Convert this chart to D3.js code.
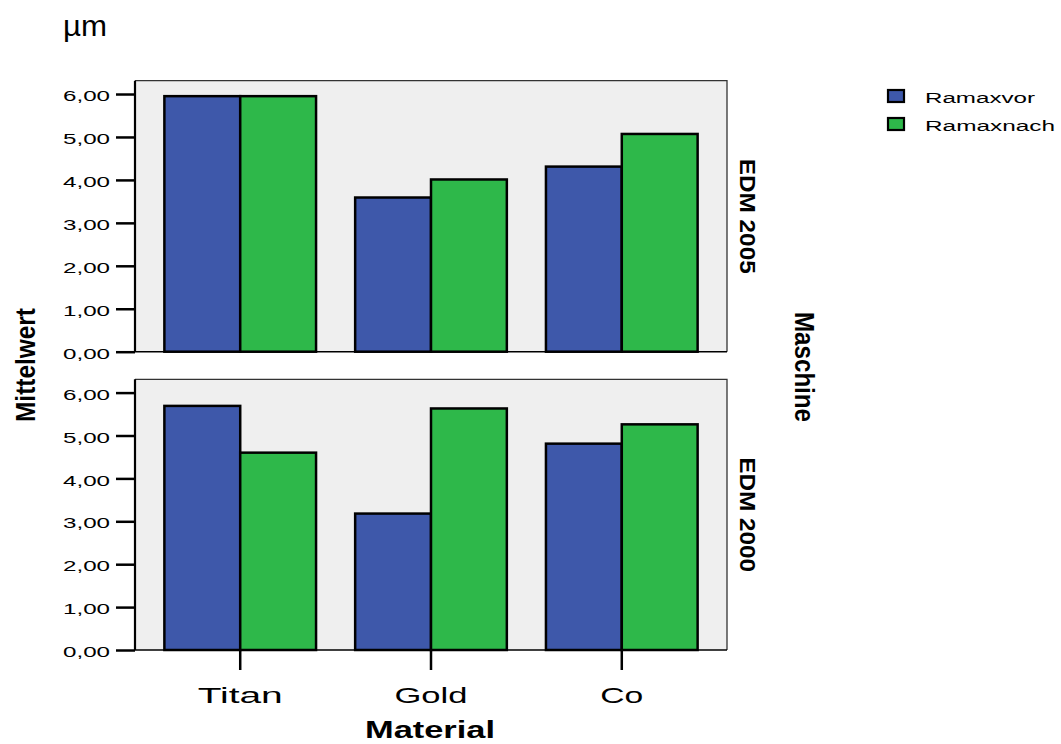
<!DOCTYPE html>
<html>
<head>
<meta charset="utf-8">
<script src="https://cdn.jsdelivr.net/npm/d3@7"></script>
<style>
  html, body { margin: 0; padding: 0; background: #ffffff; }
  svg { display: block; }
  text { font-family: "Liberation Sans", Arial, sans-serif; fill: #000; }
</style>
</head>
<body>
<svg id="chart" width="1061" height="744"></svg>
<script>
// ---- data ----
const materials = ["Titan", "Gold", "Co"];
const seriesNames = ["Ramaxvor", "Ramaxnach"];
const panelNames = ["EDM 2005", "EDM 2000"];
const edm2005Vor = [5.95, 3.59, 4.31];
const edm2005Nach = [5.95, 4.01, 5.07];
const edm2000Vor = [5.69, 3.18, 4.81];
const edm2000Nach = [4.60, 5.63, 5.26];
const yTicks = [0, 1, 2, 3, 4, 5, 6];
const yTickLabels = ["0,00", "1,00", "2,00", "3,00", "4,00", "5,00", "6,00"];
const seriesColors = ["#3e58aa", "#2eb84a"];

const panelValues = [
  [edm2005Vor, edm2005Nach],
  [edm2000Vor, edm2000Nach]
];

// ---- layout ----
const svg = d3.select("#chart");
const plotLeft = 135, plotRight = 727;
const panelTops = [80.7, 379.3];
const panelBottoms = [351.7, 650];
const yMax = 6.31;

const x = d3.scaleBand().domain(materials).range([plotLeft, plotRight])
  .paddingInner(0.205).paddingOuter(0.154);
const xs = d3.scaleBand().domain(seriesNames).range([0, x.bandwidth()]);
const color = d3.scaleOrdinal().domain(seriesNames).range(seriesColors);

panelNames.forEach((pname, pi) => {
  const top = panelTops[pi], bottom = panelBottoms[pi];
  const y = d3.scaleLinear().domain([0, yMax]).range([bottom, top]);
  const g = svg.append("g");

  g.append("rect").attr("x", plotLeft).attr("y", top)
    .attr("width", plotRight - plotLeft).attr("height", bottom - top)
    .attr("fill", "#efefef");
  g.append("path")
    .attr("d", `M${plotLeft},${top}H${plotRight}V${bottom}`)
    .attr("fill", "none").attr("stroke", "#333").attr("stroke-width", 1.3);

  const data = [];
  materials.forEach((m, mi) => {
    seriesNames.forEach((s, si) => {
      data.push({ m, s, v: panelValues[pi][si][mi] });
    });
  });
  g.selectAll("rect.bar").data(data).enter().append("rect")
    .attr("class", "bar")
    .attr("x", d => x(d.m) + xs(d.s))
    .attr("y", d => y(d.v))
    .attr("width", xs.bandwidth())
    .attr("height", d => y(0) - y(d.v))
    .attr("fill", d => color(d.s))
    .attr("stroke", "#000").attr("stroke-width", 2.5);

  g.append("line").attr("x1", plotLeft).attr("x2", plotRight)
    .attr("y1", y(0)).attr("y2", y(0))
    .attr("stroke", "#000").attr("stroke-width", 1.5);

  const yAxis = d3.axisLeft(y).tickValues(yTicks).tickSize(19).tickPadding(6)
    .tickFormat((d, i) => yTickLabels[i]);
  const ya = g.append("g").attr("transform", `translate(${plotLeft},0)`).call(yAxis);
  ya.select(".domain").attr("stroke", "#000").attr("stroke-width", 2.2)
    .attr("d", `M0,${top}V${bottom}`);
  ya.selectAll(".tick line").attr("stroke", "#000").attr("stroke-width", 2.5);
  ya.selectAll(".tick text")
    .attr("font-family", "'Liberation Sans', Arial, sans-serif")
    .attr("font-size", 15.5).attr("fill", "#000")
    .attr("dy", "0.43em")
    .attr("textLength", 47).attr("lengthAdjust", "spacingAndGlyphs");

  svg.append("text")
    .attr("transform", `translate(740,${(top + bottom) / 2}) rotate(90)`)
    .attr("text-anchor", "middle")
    .attr("font-weight", "bold").attr("font-size", 22)
    .attr("textLength", 115).attr("lengthAdjust", "spacingAndGlyphs")
    .text(pname);

  if (pi === 1) {
    const xAxis = d3.axisBottom(x).tickSize(20).tickPadding(10);
    const xa = g.append("g").attr("transform", `translate(0,${bottom})`).call(xAxis);
    xa.select(".domain").remove();
    xa.selectAll(".tick line").attr("stroke", "#000").attr("stroke-width", 2.5);
    const widths = { Titan: 85, Gold: 73, Co: 43 };
    xa.selectAll(".tick text")
      .attr("font-family", "'Liberation Sans', Arial, sans-serif")
      .attr("font-size", 22).attr("fill", "#000")
      .attr("y", 0).attr("dy", 0)
      .attr("transform", "translate(0,53)")
      .attr("textLength", d => widths[d]).attr("lengthAdjust", "spacingAndGlyphs");
  }
});

svg.append("text").attr("x", 430).attr("y", 738)
  .attr("text-anchor", "middle").attr("font-weight", "bold").attr("font-size", 24)
  .attr("textLength", 130).attr("lengthAdjust", "spacingAndGlyphs")
  .text("Material");

svg.append("text")
  .attr("transform", "translate(35,365) rotate(-90)")
  .attr("text-anchor", "middle").attr("font-weight", "bold").attr("font-size", 27)
  .attr("textLength", 114).attr("lengthAdjust", "spacingAndGlyphs")
  .text("Mittelwert");

svg.append("text")
  .attr("transform", "translate(795,367) rotate(90)")
  .attr("text-anchor", "middle").attr("font-weight", "bold").attr("font-size", 28)
  .attr("textLength", 110).attr("lengthAdjust", "spacingAndGlyphs")
  .text("Maschine");

svg.append("text").attr("x", 63).attr("y", 36)
  .attr("font-size", 30)
  .attr("textLength", 44).attr("lengthAdjust", "spacingAndGlyphs")
  .text("µm");

const legend = svg.append("g");
const legendY = [90, 118];
const legendW = [110, 130];
seriesNames.forEach((s, i) => {
  legend.append("rect").attr("x", 888).attr("y", legendY[i])
    .attr("width", 16).attr("height", 12)
    .attr("fill", color(s)).attr("stroke", "#000").attr("stroke-width", 2.2);
  legend.append("text").attr("x", 925).attr("y", legendY[i] + 12.5)
    .attr("font-size", 15.5)
    .attr("textLength", legendW[i]).attr("lengthAdjust", "spacingAndGlyphs")
    .text(s);
});
</script>
</body>
</html>
